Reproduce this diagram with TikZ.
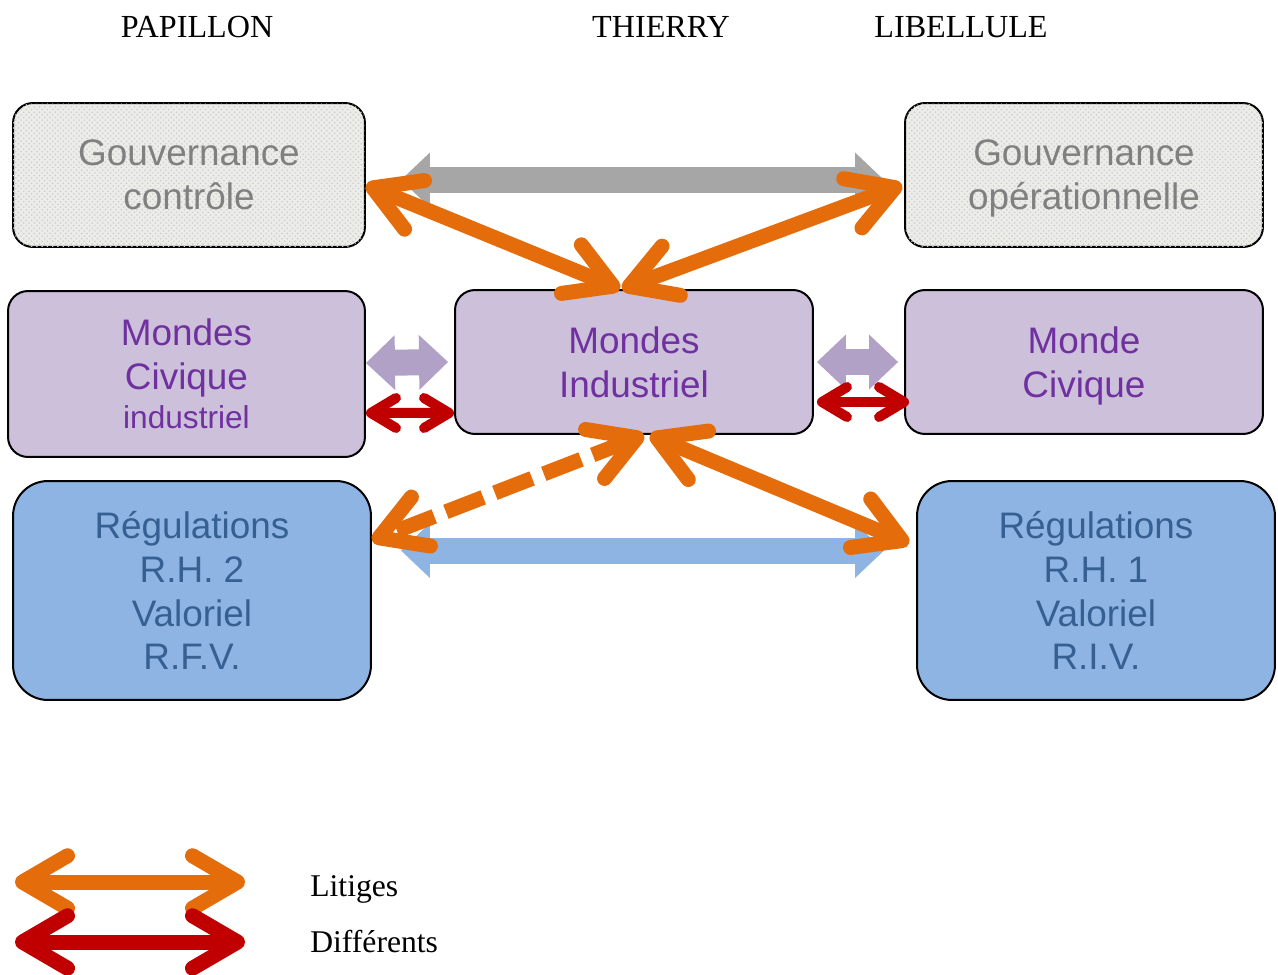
\documentclass[tikz,border=0pt]{standalone}
\usepackage{fontspec}
\setmainfont{Liberation Serif}
\newfontfamily\boxfont{Liberation Sans}
\definecolor{govfill}{RGB}{236, 236, 232}
\definecolor{govtext}{RGB}{128, 128, 128}
\definecolor{mondefill}{RGB}{204, 192, 218}
\definecolor{mondetext}{RGB}{112, 48, 160}
\definecolor{regfill}{RGB}{141, 180, 226}
\definecolor{regtext}{RGB}{55, 96, 146}
\definecolor{litorange}{RGB}{228, 108, 10}
\definecolor{diffred}{RGB}{192, 0, 0}
\definecolor{linkgray}{RGB}{166, 166, 166}
\definecolor{linklilac}{RGB}{178, 161, 199}
\usetikzlibrary{arrows.meta, positioning, patterns}
\tikzset{
    worldbox/.style={draw, rectangle, line width=0.04cm, rounded corners=0.4cm, minimum height=2.88cm, align=center, font=\boxfont\fontsize{21}{25}\selectfont},
    govbox/.style={worldbox, fill=govfill, text=govtext, postaction={pattern=crosshatch dots, pattern color=gray!40}},
    mondebox/.style={worldbox, fill=mondefill, text=mondetext},
    regbox/.style={worldbox, fill=regfill, text=regtext, rounded corners=0.7cm, minimum width=7.16cm, minimum height=4.38cm},
    litige/.style={draw=litorange, line width=0.3cm, {Straight Barb[length=0.9cm, width=1.05cm, round]}-{Straight Barb[length=0.9cm, width=1.05cm, round]}},
    different/.style={draw=diffred, line width=0.2cm, {Straight Barb[length=0.5cm, width=0.6cm, round]}-{Straight Barb[length=0.5cm, width=0.6cm, round]}},
    legenddiff/.style={draw=diffred, line width=0.3cm, {Straight Barb[length=0.9cm, width=1.05cm, round]}-{Straight Barb[length=0.9cm, width=1.05cm, round]}},
    blockarrow/.style={line width=0.52cm, {Triangle[length=0.58cm, width=1.1cm, line width=0pt]}-{Triangle[length=0.58cm, width=1.1cm, line width=0pt]}},
    header/.style={anchor=base, font=\fontsize{18.3}{22}\selectfont},
    legendtext/.style={anchor=base west, inner sep=0pt, font=\fontsize{18}{22}\selectfont},
}
\begin{document}
\begin{tikzpicture}[x=0.02cm, y=-0.02cm]
    \useasboundingbox (0,0) rectangle (1278,974);

    % Actors
    \node[header] (papillon) at (197,37) {PAPILLON};
    \node[header] (thierry) at (661,37) {THIERRY};
    \node[header] (libellule) at (961,37) {LIBELLULE};

    % Gouvernance
    \node[govbox, minimum width=7.04cm] (gctrl) at (189,175) {Gouvernance\\contrôle};
    \node[govbox, minimum width=7.16cm, text depth=0pt] (gop) at (1084,175) {Gouvernance\\opérationnelle};

    % Mondes
    \node[mondebox, minimum width=7.14cm, minimum height=3.32cm] (mci) at (186.5,374) {Mondes\\Civique\\[-0.1cm]{\fontsize{18}{22}\selectfont industriel}};
    \node[mondebox, minimum width=7.16cm] (mind) at (634,362) {Mondes\\Industriel};
    \node[mondebox, minimum width=7.16cm, text depth=0pt] (mciv) at (1084,362) {Monde\\Civique};

    % Regulations
    \node[regbox] (rh2) at (192,590.5) {Régulations\\R.H. 2\\Valoriel\\R.F.V.};
    \node[regbox] (rh1) at (1096,590.5) {Régulations\\R.H. 1\\Valoriel\\R.I.V.};

    % Links between levels
    \draw[blockarrow, draw=linkgray] ([xshift=0.7cm, yshift=-0.1cm]gctrl.east) -- ([xshift=-0.4cm, yshift=-0.1cm]gop.west);
    \draw[blockarrow, draw=regfill] ([xshift=0.58cm, yshift=0.8cm]rh2.east) -- ([xshift=-0.64cm, yshift=0.8cm]rh1.west);
    \draw[blockarrow, draw=linklilac] ([yshift=0.22cm]mci.east) -- ([xshift=-0.12cm]mind.west);
    \draw[blockarrow, draw=linklilac] ([xshift=0.06cm]mind.east) -- ([xshift=-0.12cm]mciv.west);

    % Differents
    \draw[different] ([yshift=-0.78cm]mci.east) -- ([yshift=-1.02cm]mind.west);
    \draw[different] ([xshift=0.06cm, yshift=-0.8cm]mind.east) -- ([xshift=0.1cm, yshift=-0.8cm]mciv.west);

    % Litiges
    \draw[litige] ([yshift=-0.2cm]gctrl.east) -- ([xshift=-0.28cm]mind.north);
    \draw[litige] ([xshift=-0.04cm, yshift=-0.2cm]gop.west) -- ([xshift=-0.24cm]mind.north);
    \draw[litige, dash pattern=on 0.8cm off 0.25cm] ([xshift=0.2cm]mind.south) -- ([yshift=1cm]rh2.east);
    \draw[litige] ([xshift=0.32cm]mind.south) -- ([xshift=-0.14cm, yshift=0.94cm]rh1.west);

    % Legend
    \coordinate (litL) at (15,882);
    \coordinate (litR) at (245,882);
    \coordinate (difL) at (15,942);
    \coordinate (difR) at (245,942);
    \draw[litige] (litL) -- (litR);
    \draw[legenddiff] (difL) -- (difR);
    \node[legendtext] (litlbl) at (310,896) {Litiges};
    \node[legendtext] (diflbl) at (310,952) {Différents};
\end{tikzpicture}
\end{document}
